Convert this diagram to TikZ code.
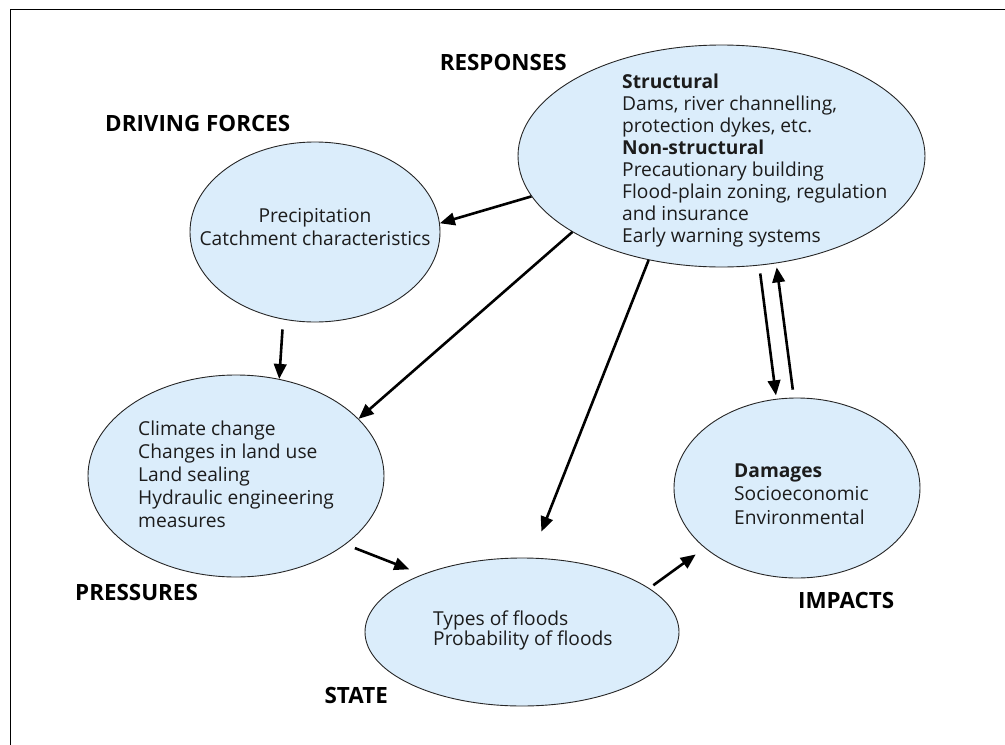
\documentclass[tikz,border=0pt]{standalone}
\usepackage{fontspec}
\setmainfont{Open Sans}
\usetikzlibrary{shapes.geometric,arrows.meta}
\definecolor{blobfill}{RGB}{219,237,251}
\definecolor{inktext}{RGB}{28,28,28}
\begin{document}
\begin{tikzpicture}[x=1pt,y=-1pt,
  blob/.style={ellipse, draw=black!85, line width=0.9pt, fill=blobfill, inner sep=0pt},
  body/.style={anchor=base west, inner sep=0pt, text=inktext},
  heading/.style={inner sep=0pt, font=\fontsize{22.4}{26}\selectfont\bfseries},
  link/.style={line width=2.6pt, -{Triangle[length=15pt,width=12.5pt]}},
]
\useasboundingbox (0,0) rectangle (1005,745);
% frame
\draw[line width=1pt] (10,745) -- (10,9) -- (1005,9);

% the five stages
\node[blob, minimum width=250pt, minimum height=180pt] (df)    at (315,232)   {};
\node[blob, minimum width=296pt, minimum height=202pt] (press) at (236,476)   {};
\node[blob, minimum width=314pt, minimum height=148pt] (state) at (522,632)   {};
\node[blob, minimum width=246pt, minimum height=180pt] (imp)   at (797,488)   {};
\node[blob, minimum width=407pt, minimum height=222pt] (resp)  at (721.5,156) {};

% texts inside the ellipses
\node[body, anchor=base, font=\fontsize{19.2}{23}\selectfont] (dftext) at (315,222)
  {\begin{tabular}[t]{@{}c@{}}Precipitation\\Catchment characteristics\end{tabular}};
\node[body, font=\fontsize{19.2}{23}\selectfont] (presstext) at (138,435)
  {\begin{tabular}[t]{@{}l@{}}Climate change\\Changes in land use\\Land sealing\\Hydraulic engineering\\measures\end{tabular}};
\node[body, font=\fontsize{19.2}{22}\selectfont] (resptext) at (622,88)
  {\begin{tabular}[t]{@{}l@{}}\textbf{Structural}\\Dams, river channelling,\\protection dykes, etc.\\\textbf{Non-structural}\\Precautionary building\\Flood-plain zoning, regulation\\and insurance\\Early warning systems\end{tabular}};
\node[body, font=\fontsize{19.2}{20}\selectfont] (statetext) at (433,625)
  {\begin{tabular}[t]{@{}l@{}}Types of floods\\Probability of floods\end{tabular}};
\node[body, font=\fontsize{19.2}{23.5}\selectfont] (imptext) at (734,477)
  {\begin{tabular}[t]{@{}l@{}}\textbf{Damages}\\Socioeconomic\\Environmental\end{tabular}};

% stage headings
\node[heading, anchor=base west] (dflabel)    at (105,131) {DRIVING FORCES};
\node[heading, anchor=base east] (resplabel)  at (567,70)  {RESPONSES};
\node[heading, anchor=base west] (presslabel) at (75,600)  {PRESSURES};
\node[heading, anchor=base east] (statelabel) at (388,703) {STATE};
\node[heading, anchor=base west] (implabel)   at (798,608) {IMPACTS};

% links between the stages
\draw[link] (resp.192.2) -- (df.4.1);
\draw[link] (resp.207.6) -- (press.25.8);
\draw[link, shorten >=28pt] (resp.235.5) -- (state.83.3);
\draw[link, shorten <=10pt] (df.250.5) -- (press.66.9);
\draw[link, shorten <=10pt, shorten >=14pt] (press.328.6) -- (state.150.9);
\draw[link, shorten <=5pt, shorten >=11pt] (state.19.4) -- (imp.213.8);
\draw[link, shorten <=8pt, shorten >=3.5pt] (resp.289.0) -- (imp.103.7);
\draw[link, shorten <=8pt, shorten >=4pt] (imp.92.5) -- (resp.297.2);
\end{tikzpicture}
\end{document}
